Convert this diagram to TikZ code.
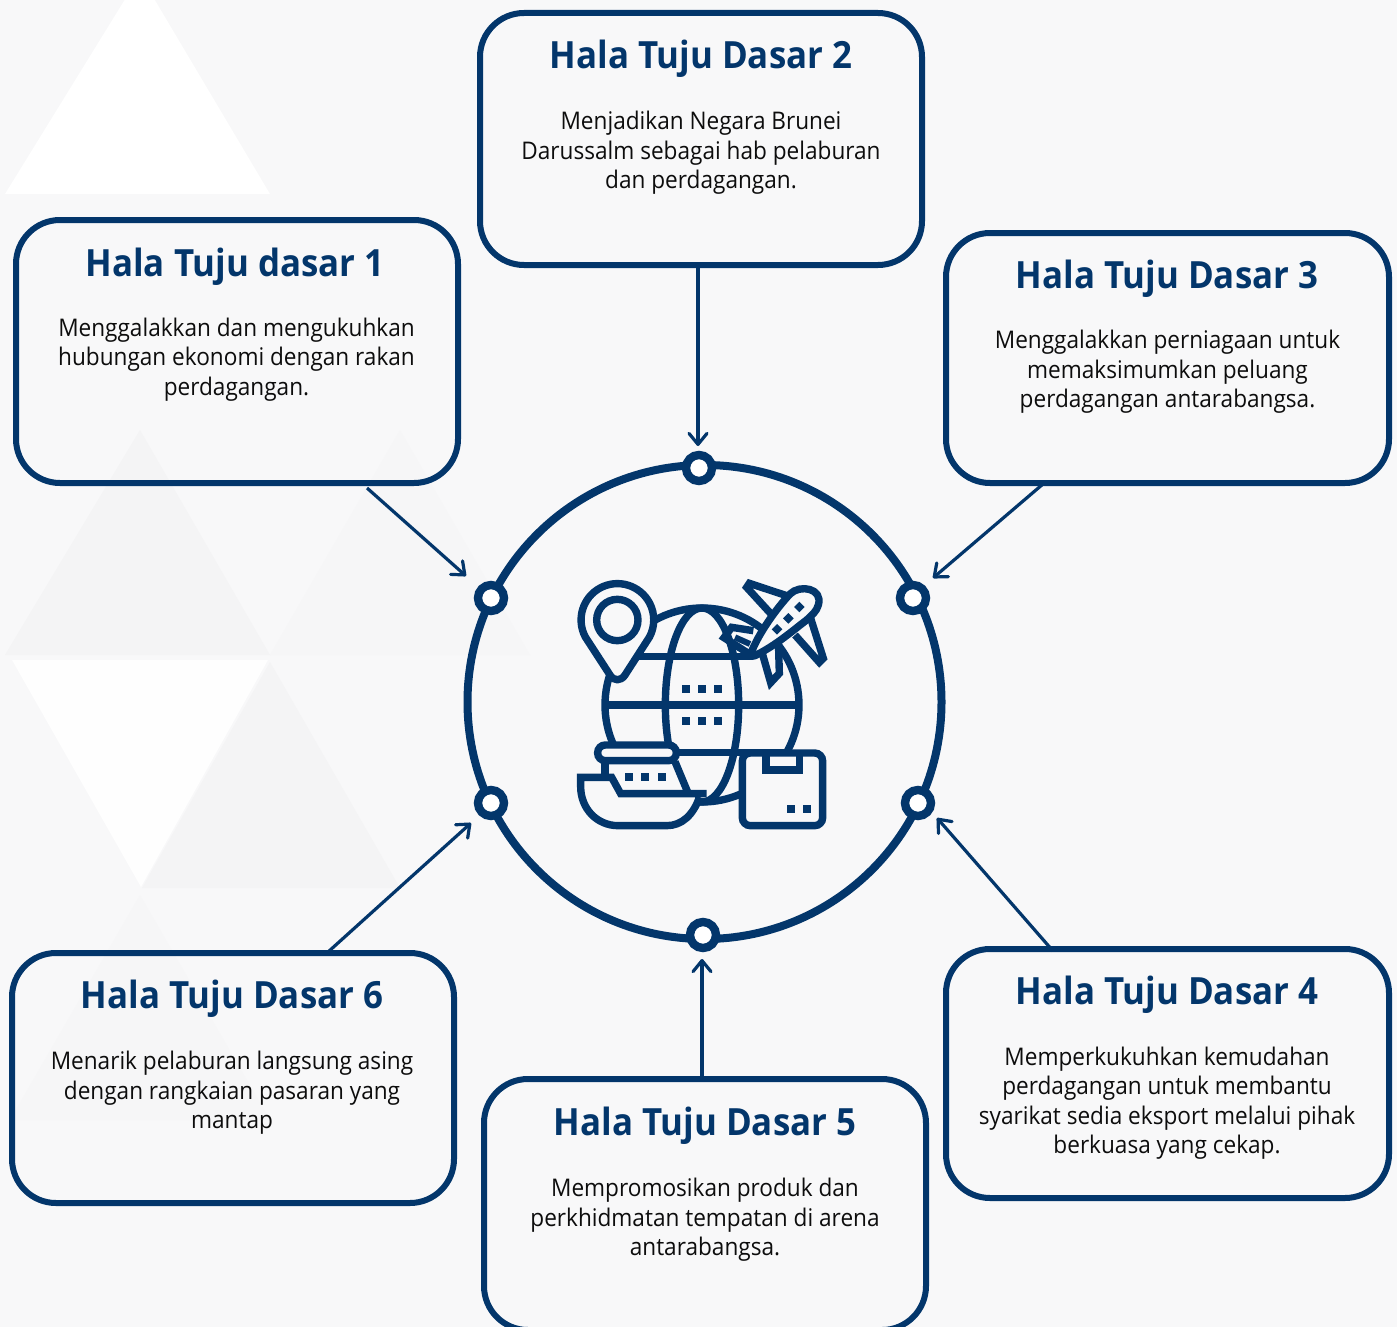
\documentclass[tikz,border=0pt]{standalone}
\usepackage{fontspec}
\setmainfont{Open Sans}[FakeStretch=0.93]
\usetikzlibrary{arrows.meta}
\definecolor{navy}{HTML}{03366B}
\definecolor{bgc}{HTML}{F8F8F9}
\definecolor{tri}{HTML}{F4F4F5}
\tikzset{
  x=1pt,y=-1pt,
  panel/.style={draw=navy,line width=6pt,rounded corners=44pt,fill=none},
  ttl/.style={text=navy,font=\fontsize{37.5}{44}\selectfont\bfseries,align=center,inner sep=0pt},
  bodytxt/.style={text=black!95,font=\fontsize{24.3}{29.5}\selectfont,align=center,inner sep=0pt},
  hub/.style={circle,draw=navy,line width=8pt,fill=none,inner sep=0pt,minimum size=474pt},
  dotnode/.style={circle,draw=navy,line width=8.4pt,fill=white,inner sep=0pt,minimum size=26pt},
  link/.style={draw=navy,line width=3.2pt,-{Straight Barb[length=11pt,width=18pt,line width=3.2pt,round]}},
  ic/.style={draw=navy,line width=7.4pt,line join=miter,fill=bgc},
  icl/.style={draw=navy,line width=7.4pt,line join=miter},
  sq/.style={fill=navy,draw=none},
}
\begin{document}
\begin{tikzpicture}
\useasboundingbox (0,0) rectangle (1397,1327);
\clip (0,0) rectangle (1397,1327);
\fill[bgc] (0,0) rectangle (1397,1327);
% background triangles
\fill[tri] (140,430) -- (270,655) -- (5,655) -- cycle;
\fill[tri] (270,662) -- (400,888) -- (142,888) -- cycle;
\fill[tri!50!bgc] (140,895) -- (270,1120) -- (10,1120) -- cycle;
\fill[tri!40!bgc] (400,430) -- (530,655) -- (270,655) -- cycle;
\fill[white] (140,-25) -- (270,194) -- (5,194) -- cycle;
\fill[white!80!bgc] (12,660) -- (268,660) -- (141,887) -- cycle;
% panels
\node[panel,minimum width=442pt,minimum height=263pt] (p1) at (237,351.5) {};
\node[panel,minimum width=442pt,minimum height=252pt] (p2) at (701,139) {};
\node[panel,minimum width=443pt,minimum height=250pt] (p3) at (1167.5,358) {};
\node[panel,minimum width=443pt,minimum height=249pt] (p4) at (1167.5,1073.5) {};
\node[panel,minimum width=442pt,minimum height=251pt] (p5) at (705,1204.5) {};
\node[panel,minimum width=442pt,minimum height=250pt] (p6) at (233,1078) {};
% texts
\node[ttl] (t1) at (235,266.5) {Hala Tuju dasar 1};
\node[bodytxt] (b1) at (236.5,359.5) {Menggalakkan dan mengukuhkan\\hubungan ekonomi dengan rakan\\perdagangan.};
\node[ttl] (t2) at (701,58.5) {Hala Tuju Dasar 2};
\node[bodytxt] (b2) at (701,153) {Menjadikan Negara Brunei\\Darussalm sebagai hab pelaburan\\dan perdagangan.};
\node[ttl] (t3) at (1167,278.5) {Hala Tuju Dasar 3};
\node[bodytxt] (b3) at (1167.5,372) {Menggalakkan perniagaan untuk\\memaksimumkan peluang\\perdagangan antarabangsa.};
\node[ttl] (t4) at (1167,994.5) {Hala Tuju Dasar 4};
\node[bodytxt] (b4) at (1167,1103) {Memperkukuhkan kemudahan\\perdagangan untuk membantu\\syarikat sedia eksport melalui pihak\\berkuasa yang cekap.};
\node[ttl] (t5) at (705,1125.5) {Hala Tuju Dasar 5};
\node[bodytxt] (b5) at (705,1220) {Mempromosikan produk dan\\perkhidmatan tempatan di arena\\antarabangsa.};
\node[ttl] (t6) at (232,998.5) {Hala Tuju Dasar 6};
\node[bodytxt] (b6) at (232,1093) {Menarik pelaburan langsung asing\\dengan rangkaian pasaran yang\\mantap};
% hub
\node[hub] (hub) at (704.5,702) {};
\node[dotnode] (d2) at (699,468) {};
\node[dotnode] (d1) at (491,598) {};
\node[dotnode] (d3) at (913,598) {};
\node[dotnode] (d6) at (491,803) {};
\node[dotnode] (d4) at (918,803) {};
\node[dotnode] (d5) at (703,935) {};
% connector ends
\coordinate (s1) at (367,488); \coordinate (e1) at (466,576);
\coordinate (s2) at (698,267); \coordinate (e2) at (698,446);
\coordinate (s3) at (1043,484); \coordinate (e3) at (933,578);
\coordinate (s4) at (1053,951); \coordinate (e4) at (937,818);
\coordinate (s5) at (702,1078); \coordinate (e5) at (702,959);
\coordinate (s6) at (328,952); \coordinate (e6) at (471,823);
\draw[link] (s1) -- (e1);
\draw[link] (s2) -- (e2);
\draw[link] (s3) -- (e3);
\draw[link] (s4) -- (e4);
\draw[link] (s5) -- (e5);
\draw[link] (s6) -- (e6);
% icon, drawn in a 3x grid
\begin{scope}[shift={(560,560)},scale=1/3]
  % globe
  \draw[icl] (426,435) circle[x radius=291,y radius=291];
  \draw[icl] (426,435) circle[x radius=110,y radius=291];
  \draw[icl] (172,290) -- (575,290);
  \draw[icl] (135,435) -- (717,435);
  \draw[icl] (172,578) -- (680,578);
  \foreach \yy in {386,483}{\foreach \xx in {377,426,475}{\fill[sq] (\xx-12,\yy-12) rectangle (\xx+12,\yy+12);}}
  % pin
  \draw[ic,line join=round] (76,231) arc[start angle=152,end angle=388,radius=109] -- (195,345) .. controls (183,364) and (161,364) .. (150,345) -- cycle;
  \draw[icl] (172,180) circle[radius=62];
  % plane
  \draw[ic] (636,165) -- (560,82) -- (568,70) -- (695,112);
  \draw[ic] (752,175) -- (790,295) -- (778,307) -- (705,225);
  \draw[ic] (604,270) -- (632,368) -- (658,340) -- (655,235);
  \draw[icl] (580,212) -- (515,202) -- (492,233) -- (565,280);
  \draw[draw=navy,line width=6pt] (525,232) -- (570,252);
  \draw[ic,line join=round] (572,282) .. controls (595,220) and (650,145) .. (690,102) .. controls (720,72) and (790,85) .. (775,135) .. controls (770,155) and (755,165) .. (740,180) .. controls (700,210) and (650,255) .. (585,287) .. controls (575,290) and (568,288) .. (572,282) -- cycle;
  \foreach \xx/\yy in {651/208,685/175,718/141}{\fill[sq] (\xx-16,\yy) -- (\xx,\yy-16) -- (\xx+16,\yy) -- (\xx,\yy+16) -- cycle;}
  % ship
  \fill[bgc] (135,600) -- (135,652) -- (182,701) -- (385,701) -- (345,600) -- cycle;
  \draw[icl] (135,605) -- (135,652);
  \draw[icl] (345,605) -- (385,701);
  \draw[ic,rounded corners=7.6pt] (231,555) -- (349,555) -- (349,602) -- (113,602) -- (113,555) -- cycle;
  \fill[bgc] (62,652) -- (155,652) -- (182,701) -- (428,701) .. controls (415,760) and (375,797) .. (320,797) -- (175,797) .. controls (110,797) and (62,745) .. (62,680) -- cycle;
  \draw[icl] (440,701) -- (182,701) -- (155,652) -- (62,652) -- (62,680) .. controls (62,745) and (110,797) .. (175,797) -- (320,797) .. controls (365,797) and (400,765) .. (418,712);
  \foreach \xx in {208,256,305}{\fill[sq] (\xx-12,640) rectangle (\xx+12,664);}
  % parcel
  \draw[ic,rounded corners=8pt] (547,579) rectangle (788,797);
  \draw[icl] (618,579) -- (618,630) -- (718,630) -- (718,579);
  \foreach \xx in {692,741}{\fill[sq] (\xx-12,736) rectangle (\xx+12,760);}
\end{scope}
\end{tikzpicture}
\end{document}
